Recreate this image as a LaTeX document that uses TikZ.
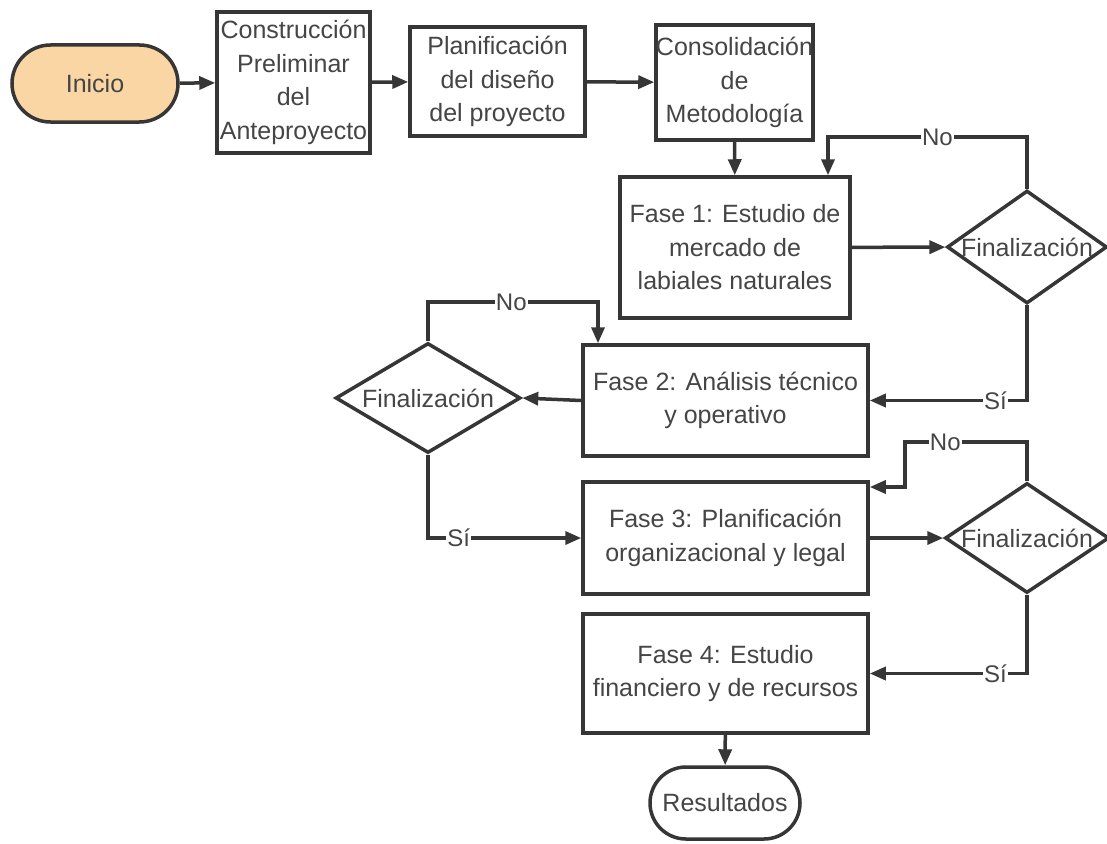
\documentclass[tikz,border=0pt]{standalone}
\usepackage{fontspec}
\setmainfont{Liberation Sans}
\usetikzlibrary{arrows.meta,shapes.geometric,shapes.misc}
\definecolor{ink}{HTML}{363636}
\definecolor{txt}{HTML}{454545}
\definecolor{startfill}{HTML}{F9D6A3}
\begin{document}
\begin{tikzpicture}[x=1pt,y=-1pt,
  every node/.style={font=\fontsize{25}{33.5}\selectfont, text=txt},
  stepbox/.style={draw=ink, line width=3.5pt, fill=white, rectangle, inner sep=0pt, align=center},
  term/.style={draw=ink, line width=3.5pt, rounded rectangle, inner sep=0pt, align=center},
  decision/.style={draw=ink, line width=3.5pt, fill=white, diamond, inner sep=0pt},
  dtext/.style={inner sep=0pt},
  conn/.style={draw=ink, line width=3.5pt, -{Triangle[length=16pt,width=13pt]}},
  lbl/.style={fill=white, inner sep=1pt, font=\fontsize{24}{26}\selectfont}
]
\useasboundingbox (0,0) rectangle (1107,843);

% top row
\node[term, fill=startfill, minimum width=166, minimum height=77] (ini) at (95,83.5) {Inicio};
\node[stepbox, minimum width=153, minimum height=141] (con) at (293.5,82.5) {Construcción\\Preliminar\\del\\Anteproyecto};
\node[stepbox, minimum width=175, minimum height=109] (pla) at (497.5,81.5) {Planificación\\del diseño\\del proyecto};
\node[stepbox, minimum width=155, minimum height=115] (cons) at (734.5,82.5) {Consolidación\\de\\Metodología};

% phases
\node[stepbox, minimum width=230, minimum height=141] (f1) at (735,247.5) {Fase 1: Estudio de\\mercado de\\labiales naturales};
\node[stepbox, minimum width=285, minimum height=111] (f2) at (725.5,400.5) {Fase 2: Análisis técnico\\y operativo};
\node[stepbox, minimum width=285, minimum height=112] (f3) at (725.5,538) {Fase 3: Planificación\\organizacional y legal};
\node[stepbox, minimum width=285, minimum height=119] (f4) at (725.5,673.5) {Fase 4: Estudio\\financiero y de recursos};
\node[term, fill=white, minimum width=150, minimum height=72] (res) at (725,803) {Resultados};

% decisions
\node[decision, minimum width=160, minimum height=113] (d1) at (1027,247) {};
\node[dtext] (t1) at (d1) {Finalización};
\node[decision, minimum width=185, minimum height=110] (d2) at (428,398) {};
\node[dtext] (t2) at (d2) {Finalización};
\node[decision, minimum width=164, minimum height=110] (d3) at (1027,538) {};
\node[dtext] (t3) at (d3) {Finalización};

% loop-back corners
\coordinate (n1) at (828,137);
\coordinate (n2) at (598,302);
\coordinate (n3) at (905,442);
\coordinate (n3b) at (905,487);

% main flow
\draw[conn] (ini) -- (con);
\draw[conn] (con) -- (pla);
\draw[conn] (pla) -- (cons);
\draw[conn] (cons) -- (f1);
\draw[conn] (f1) -- (d1);
\draw[conn] (f2.west) -- (d2.east);
\draw[conn] (f3.east) -- (d3.west);
\draw[conn] (f4) -- (res);

% decision branches
\draw[conn] (d1.north) |- node[lbl, pos=0.725] {No} (n1) -- (n1 |- f1.north);
\draw[conn] (d1.south) |- node[lbl, pos=0.6] {Sí} (f2.east);
\draw[conn] (d2.north) |- node[lbl, pos=0.745] {No} (n2) -- (n2 |- f2.north);
\draw[conn] (d2.south) |- node[lbl, pos=0.6] {Sí} (f3.west);
\draw[conn] (d3.north) |- node[lbl, pos=0.835] {No} (n3) -- (n3b) -- (n3b -| f3.east);
\draw[conn] (d3.south) |- node[lbl, pos=0.6] {Sí} (f4.east);
\end{tikzpicture}
\end{document}
